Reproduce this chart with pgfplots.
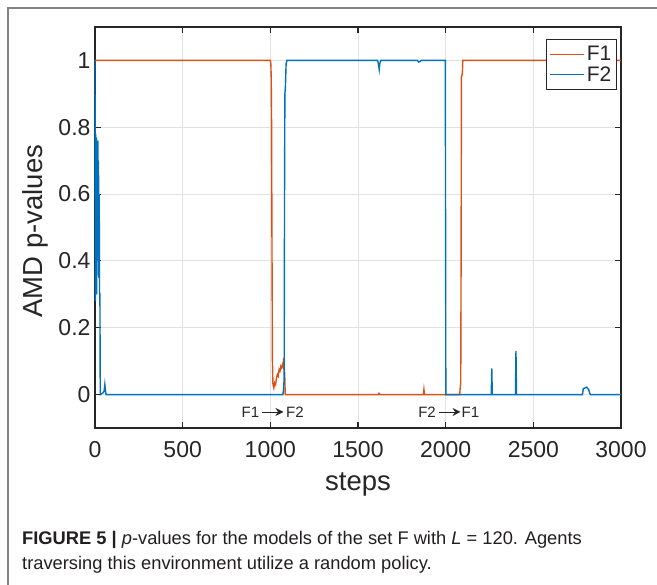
\documentclass[border=0pt]{standalone}
\usepackage{pgfplots}
\pgfplotsset{compat=1.18}
\usepackage{fontspec}
\setmainfont{Liberation Sans}
\usetikzlibrary{arrows.meta}

\definecolor{mblue}{RGB}{0,114,189}
\definecolor{morange}{RGB}{217,83,25}
\definecolor{axgray}{RGB}{38,38,38}
\definecolor{gridgray}{RGB}{226,226,226}
\definecolor{framegray}{RGB}{130,130,130}
\definecolor{captext}{RGB}{35,31,32}

\begin{document}
\begin{tikzpicture}
\useasboundingbox (0pt,0pt) rectangle (657pt,585pt);
\clip (0pt,0pt) rectangle (657pt,585pt);
\fill[white] (0pt,0pt) rectangle (657pt,585pt);
\draw[framegray, line width=1.3pt] (8pt,-20pt) -- (8pt,577pt) -- (700pt,577pt);

\begin{axis}[
    at={(95pt,157pt)}, anchor=south west,
    scale only axis,
    width=526pt, height=401pt,
    xmin=0, xmax=3000,
    ymin=-0.1, ymax=1.1,
    clip=false,
    xtick={0,500,...,3000},
    ytick={0,0.2,0.4,0.6,0.8,1},
    yticklabels={0,0.2,0.4,0.6,0.8,1},
    /pgf/number format/1000 sep={},
    /pgf/number format/assume math mode=true,
    tick align=inside,
    major tick length=6pt,
    grid=major,
    major grid style={gridgray, line width=0.9pt},
    axis line style={axgray, line width=1.1pt},
    every tick/.style={axgray, line width=1.1pt},
    ticklabel style={font=\fontsize{23}{26}\selectfont, text=axgray},
    xticklabel style={yshift=-10pt},
    yticklabel style={xshift=-1pt},
    xlabel={steps},
    ylabel={AMD p-values},
    label style={font=\fontsize{27.5}{32}\selectfont, text=axgray},
    xlabel style={at={(axis description cs:0.5,-0.155)}, anchor=base},
    ylabel style={at={(axis description cs:-0.114,0.491)}, anchor=center},
    legend style={at={(rel axis cs:0.992,0.97)}, anchor=north east,
        draw=axgray, line width=1pt, font=\fontsize{21}{24}\selectfont,
        text=axgray, inner xsep=3pt, inner ysep=5pt, row sep=0pt},
    legend cell align=left,
    legend image code/.code={\draw[#1, line width=1.3pt] (0pt,0pt) -- (34pt,0pt);},
]
\addplot[draw=morange, line width=1.4pt] coordinates {
(0,1) (1000,1) (1003,0.99) (1005,0.95) (1007,0.82) (1009,0.5) (1012,0.1)
(1015,0.03) (1020,0.02) (1025,0.035) (1030,0.03) (1035,0.05) (1040,0.06)
(1045,0.055) (1050,0.075) (1055,0.07) (1060,0.085) (1065,0.08) (1070,0.09)
(1073,0.085) (1076,0.11) (1078,0.09) (1082,0.06) (1085,0.0) (1615,0)
(1620,0.004) (1625,0) (1873,0) (1876,0.015) (1879,0) (2080,0) (2083,0.02)
(2086,0.035) (2088,0.4) (2090,0.95) (2095,0.96) (2098,1) (3000,1)
};
\addlegendentry{F1}
\addplot[draw=mblue, line width=1.4pt] coordinates {
(0,1) (2,0.28) (4,0.78) (6,0.35) (8,0.77) (10,0.3) (12,0.72) (14,0.4)
(16,0.76) (18,0.45) (20,0.7) (22,0.35) (24,0.6) (26,0.3) (28,0.3)
(30,0.0) (45,0.005) (52,0.01) (56,0.03) (60,0.01) (63,0.0)
(1072,0) (1076,0.02) (1079,0.05) (1081,0.6) (1083,0.9) (1086,0.92)
(1090,0.99) (1095,1) (1612,1) (1618,0.985) (1621,0.973) (1624,0.99)
(1630,1) (1840,1) (1845,0.995) (1855,0.997) (1860,1) (1998,1) (2001,0)
(2260,0) (2263,0.078) (2266,0) (2398,0) (2401,0.131) (2404,0)
(2780,0) (2785,0.018) (2795,0.02) (2805,0.022) (2815,0.015) (2825,0) (3000,0)
};
\addlegendentry{F2}
% transition labels
\node[font=\fontsize{15}{17}\selectfont, text=axgray, inner sep=0pt] at (axis cs:886,-0.052) {F1};
\draw[axgray, line width=0.9pt, -{Stealth[length=8pt,width=8pt]}] (axis cs:952,-0.052) -- (axis cs:1075,-0.052);
\node[font=\fontsize{15}{17}\selectfont, text=axgray, inner sep=0pt] at (axis cs:1140,-0.052) {F2};
\node[font=\fontsize{15}{17}\selectfont, text=axgray, inner sep=0pt] at (axis cs:1894,-0.052) {F2};
\draw[axgray, line width=0.9pt, -{Stealth[length=8pt,width=8pt]}] (axis cs:1962,-0.052) -- (axis cs:2085,-0.052);
\node[font=\fontsize{15}{17}\selectfont, text=axgray, inner sep=0pt] at (axis cs:2141,-0.052) {F1};
\end{axis}

\node[anchor=base west, font=\fontsize{18.3}{22}\selectfont, text=captext, inner sep=0pt]
  at (22pt,40pt) {\textbf{FIGURE 5 |} \textit{p}-values for the models of the set F with \textit{L} = 120. Agents};
\node[anchor=base west, font=\fontsize{18.3}{22}\selectfont, text=captext, inner sep=0pt]
  at (22pt,15pt) {traversing this environment utilize a random policy.};
\end{tikzpicture}
\end{document}
